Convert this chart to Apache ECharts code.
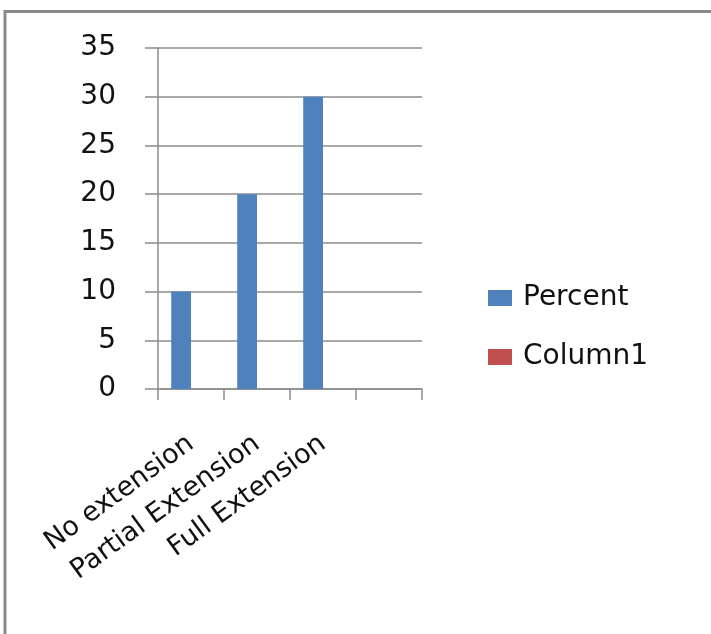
<!DOCTYPE html>
<html>
<head>
<meta charset="utf-8">
<script src="https://cdn.jsdelivr.net/npm/echarts@6/dist/echarts.min.js"></script>
<style>
  html, body { margin: 0; padding: 0; background: #fff; }
  #chart { width: 711px; height: 634px; }
</style>
</head>
<body>
<div id="chart"></div>
<script>
// 数据
const categories = ["No extension", "Partial Extension", "Full Extension", ""];
const percent = [10, 20, 30, null];
const column1 = [null, null, null, null];
const yTicks = { min: 0, max: 35, interval: 5 };

const myChart = echarts.init(document.getElementById("chart"));

const font = "DejaVu Sans";

const option = {
  backgroundColor: "#fff",
  animation: false,
  textStyle: { fontFamily: font },
  // 外框
  graphic: [
    {
      type: "rect",
      shape: { x: 5, y: 11.5, width: 900, height: 900 },
      style: { fill: "none", stroke: "#8a8a8a", lineWidth: 3 },
      silent: true,
    },
  ],
  legend: {
    orient: "vertical",
    left: 488,
    top: 284,
    padding: 0,
    icon: "rect",
    itemWidth: 24,
    itemHeight: 16,
    itemGap: 31,
    textStyle: { fontFamily: font, fontSize: 28, color: "#111", padding: [0, 0, 0, 6] },
    data: ["Percent", "Column1"],
  },
  grid: {
    left: 158,
    top: 48,
    right: 289,
    bottom: 245,
    containLabel: false,
  },
  xAxis: {
    type: "category",
    data: categories,
    boundaryGap: true,
    axisLine: { lineStyle: { color: "#8c8c8c", width: 1.5 } },
    axisTick: { show: true, length: 11, lineStyle: { color: "#8c8c8c", width: 1.5 } },
    axisLabel: {
      interval: 0,
      rotate: 36,
      margin: 52,
      fontFamily: font,
      fontSize: 27,
      color: "#111",
    },
    splitLine: { show: false },
  },
  yAxis: {
    type: "value",
    min: yTicks.min,
    max: yTicks.max,
    interval: yTicks.interval,
    axisLine: { show: true, lineStyle: { color: "#8c8c8c", width: 1.5 } },
    axisTick: { show: true, length: 13, lineStyle: { color: "#8c8c8c", width: 1.5 } },
    axisLabel: {
      margin: 42,
      fontFamily: font,
      fontSize: 28,
      color: "#111",
    },
    splitLine: { show: true, lineStyle: { color: "#8c8c8c", width: 1.5 } },
  },
  series: [
    {
      name: "Percent",
      type: "bar",
      data: percent,
      barGap: "0%",
      barCategoryGap: "40%",
      itemStyle: { color: "#4F81BD" },
    },
    {
      name: "Column1",
      type: "bar",
      data: column1,
      itemStyle: { color: "#C0504D" },
    },
  ],
};

myChart.setOption(option);
</script>
</body>
</html>
